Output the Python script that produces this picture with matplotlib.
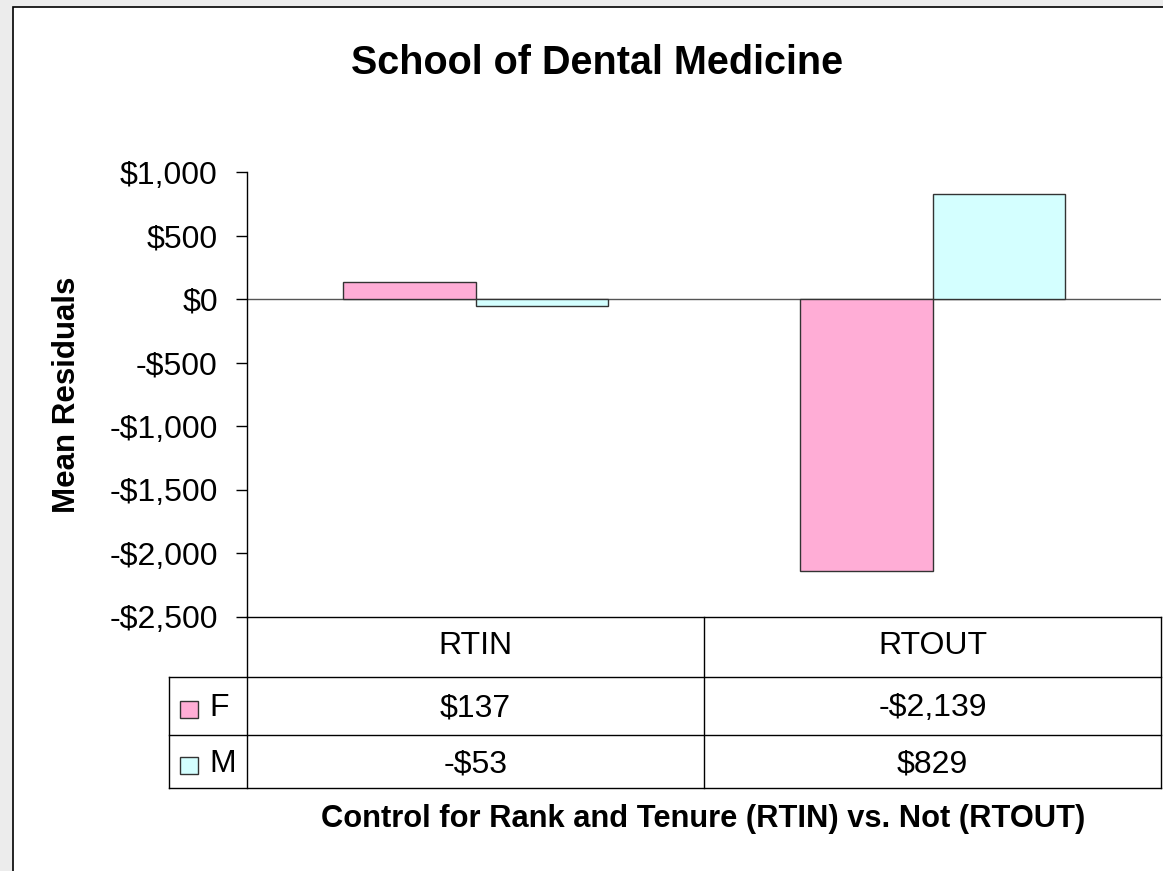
import matplotlib
matplotlib.use('Agg')
from matplotlib import pyplot as plt
from matplotlib.patches import Rectangle
from matplotlib.transforms import blended_transform_factory
import numpy as np

plt.rcParams['font.family'] = ['Liberation Sans', 'DejaVu Sans']

# data
categories = ['RTIN', 'RTOUT']
series_names = ['F', 'M']
f_values = [137, -2139]
m_values = [-53, 829]
y_ticks = [1000, 500, 0, -500, -1000, -1500, -2000, -2500]

title = 'School of Dental Medicine'
y_label = 'Mean Residuals'
x_label = 'Control for Rank and Tenure (RTIN) vs. Not (RTOUT)'

f_color = '#FFADD6'
m_color = '#D4FFFF'
edge = '#333333'

W, H = 1163, 871


def money(v):
    s = '${:,.0f}'.format(abs(v))
    return '-' + s if v < 0 else s


fig = plt.figure(figsize=(W / 100, H / 100), dpi=100)
fig.patch.set_facecolor('#ececec')

# canvas axes in pixel coords (for frame and table)
canvas = fig.add_axes([0, 0, 1, 1])
canvas.set_xlim(0, W)
canvas.set_ylim(H, 0)
canvas.axis('off')
canvas.add_patch(Rectangle((13, 7), W + 50, H + 50, facecolor='white',
                           edgecolor='black', linewidth=1.2))

# bar axes
left, right, top, bottom = 247, 1161, 172, 617
ax = fig.add_axes([left / W, 1 - bottom / H, (right - left) / W, (bottom - top) / H])
ax.set_facecolor('none')
x = np.arange(len(categories))
w = 0.29
ax.bar(x - w / 2, f_values, w, color=f_color, edgecolor=edge, linewidth=1, zorder=3)
ax.bar(x + w / 2, m_values, w, color=m_color, edgecolor=edge, linewidth=1, zorder=3)
ax.axhline(0, color='#555555', linewidth=1, zorder=2)
ax.set_xlim(-0.5, len(categories) - 0.5)
ax.set_ylim(y_ticks[-1], y_ticks[0])
ax.set_yticks(y_ticks)
ax.set_yticklabels([money(v) for v in y_ticks])
ax.set_xticks([])
ax.tick_params(axis='y', direction='out', length=8, width=1, pad=13, labelsize=23, colors='black')
ax.spines['top'].set_visible(False)
ax.spines['right'].set_visible(False)
ax.spines['left'].set_linewidth(1)
ax.spines['bottom'].set_linewidth(1)

# data table below the axes, x follows the bar axes, y in pixels
tr = blended_transform_factory(ax.transData, canvas.transData)
row_lines = [617, 677, 735, 788]
unit_px = (right - left) / len(categories)
label_left = -0.5 - 78 / unit_px
lc = 'black'
for yy in row_lines[1:]:
    canvas.plot([label_left, len(categories) - 0.5], [yy, yy], color=lc, lw=1,
                transform=tr, clip_on=False)
for xx in np.arange(len(categories) + 1) - 0.5:
    canvas.plot([xx, xx], [row_lines[0], row_lines[-1]], color=lc, lw=1,
                transform=tr, clip_on=False)
canvas.plot([label_left, label_left], [row_lines[1], row_lines[-1]], color=lc, lw=1,
            transform=tr, clip_on=False)

text_y = [646, 708, 764]
for i, c in enumerate(categories):
    canvas.text(i, text_y[0], c, transform=tr, ha='center', va='center', fontsize=23)
    canvas.text(i, text_y[1], money(f_values[i]), transform=tr, ha='center', va='center', fontsize=23)
    canvas.text(i, text_y[2], money(m_values[i]), transform=tr, ha='center', va='center', fontsize=23)

key_y = [701, 757]
for name, col, ky, ty in zip(series_names, [f_color, m_color], key_y, text_y[1:]):
    canvas.add_patch(Rectangle((180, ky), 18, 17, facecolor=col, edgecolor=edge, linewidth=1))
    canvas.text(209, ty, name, ha='left', va='center', fontsize=23)

# titles
canvas.text(597, 63, title, ha='center', va='center', fontsize=28.5, fontweight='bold')
canvas.text(67, 395, y_label, ha='center', va='center', fontsize=22.5, fontweight='bold', rotation=90)
canvas.text(703, 819, x_label, ha='center', va='center', fontsize=22.2, fontweight='bold')

fig.savefig('out.png', dpi=100, facecolor=fig.get_facecolor())
